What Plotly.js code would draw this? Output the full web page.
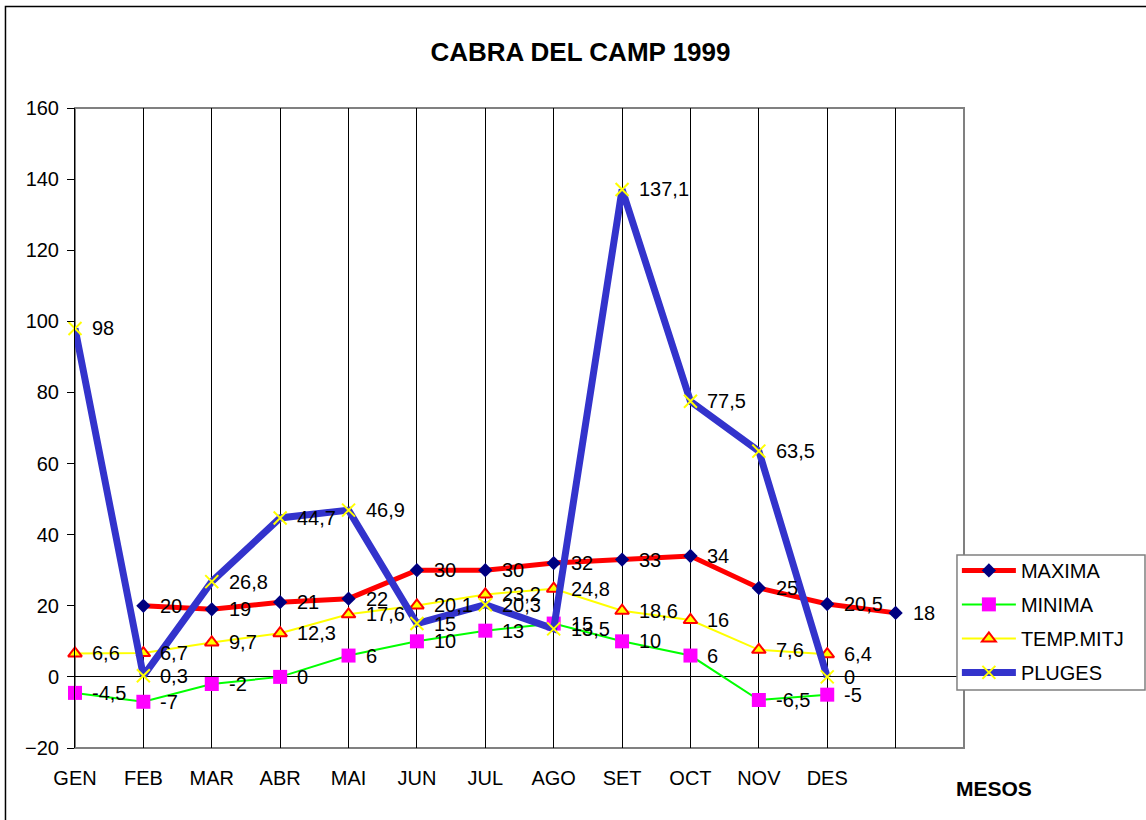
<!DOCTYPE html>
<html>
<head>
<meta charset="utf-8">
<script src="https://cdn.plot.ly/plotly-3.0.1.min.js"></script>
<style>
html,body{margin:0;padding:0;background:#fff;}
#chart{width:1146px;height:820px;}
</style>
</head>
<body>
<div id="chart"></div>
<script>
// ---- data ----
var months = ['GEN','FEB','MAR','ABR','MAI','JUN','JUL','AGO','SET','OCT','NOV','DES',''];
var maxima = [null,20,19,21,22,30,30,32,33,34,25,20.5,18];
var minima = [-4.5,-7,-2,0,6,10,13,15,10,6,-6.5,-5,null];
var tempMitj = [6.6,6.7,9.7,12.3,17.6,20.1,23.2,24.8,18.6,16,7.6,6.4,null];
var pluges = [98,0.3,26.8,44.7,46.9,15,20.3,13.5,137.1,77.5,63.5,0,null];
var seriesNames = ['MAXIMA','MINIMA','TEMP.MITJ','PLUGES'];
var chartTitle = 'CABRA DEL CAMP 1999';
var xTitle = 'MESOS';

var idx = months.map(function(_, i){ return i; });
function fmt(v){ return String(v).replace('.', ','); }
var FONT = '"Liberation Sans", Arial, sans-serif';
var textFont = {family: FONT, size: 20, color: '#000'};

var traces = [
  {
    name: seriesNames[0], x: idx, y: maxima,
    mode: 'lines+markers',
    line: {color: '#FF0000', width: 5},
    marker: {symbol: 'diamond', size: 11, color: '#000080'},
    cliponaxis: false, legendgroup: 'a', hoverinfo: 'none'
  },
  {
    name: seriesNames[1], x: idx, y: minima,
    mode: 'lines+markers',
    line: {color: '#00FF00', width: 2},
    marker: {symbol: 'square', size: 14, color: '#FF00FF'},
    cliponaxis: false, legendgroup: 'b', hoverinfo: 'none'
  },
  {
    name: seriesNames[2], x: idx, y: tempMitj,
    mode: 'lines+markers',
    line: {color: '#FFFF00', width: 2},
    marker: {symbol: 'triangle-up', size: 12, color: '#FFFF00', line: {color: '#FF0000', width: 2}},
    cliponaxis: false, legendgroup: 'c', hoverinfo: 'none'
  },
  {
    name: seriesNames[3], x: idx, y: pluges,
    mode: 'lines+markers',
    line: {color: '#3333CC', width: 7},
    marker: {symbol: 'x-thin-open', size: 13, color: '#FFFF00', line: {color: '#FFFF00', width: 2}},
    cliponaxis: false, legendgroup: 'd', hoverinfo: 'none'
  }
];

// data labels (drawn right of each point, as in the original)
var annotations = [];
[maxima, minima, tempMitj, pluges].forEach(function(arr){
  arr.forEach(function(v, i){
    if (v === null) return;
    annotations.push({
      x: idx[i], y: v, xref: 'x', yref: 'y', text: fmt(v),
      xanchor: 'left', yanchor: 'middle', xshift: 15, showarrow: false,
      font: textFont
    });
  });
});
annotations.push({
  text: '<b>' + xTitle + '</b>', xref: 'paper', yref: 'paper',
  x: 1.0337, y: -0.0625, xanchor: 'center', yanchor: 'middle', showarrow: false,
  font: {family: FONT, size: 21, color: '#000'}
});

var layout = {
  width: 1146, height: 820,
  margin: {l: 75, r: 182, t: 108, b: 72, pad: 0},
  paper_bgcolor: '#fff', plot_bgcolor: '#fff',
  font: {family: FONT, size: 20, color: '#000'},
  title: {
    text: '<b>' + chartTitle + '</b>',
    font: {family: FONT, size: 26, color: '#000'},
    xref: 'paper', x: 0.5686, xanchor: 'center',
    yref: 'container', y: 0.9366, yanchor: 'middle'
  },
  xaxis: {
    range: [0, 13], tickvals: idx, ticktext: months,
    showgrid: true, gridcolor: '#000', gridwidth: 1,
    zeroline: false, showline: false, ticks: '',
    ticklabelstandoff: 16,
    tickfont: {family: FONT, size: 20, color: '#000'},
    fixedrange: true
  },
  yaxis: {
    range: [-20, 160], dtick: 20, tick0: 0,
    showgrid: false, zeroline: true, zerolinecolor: '#000', zerolinewidth: 1,
    showline: true, linecolor: '#000', linewidth: 1,
    ticks: 'outside', ticklen: 7, tickcolor: '#000', tickwidth: 1,
    ticklabelstandoff: 4,
    tickfont: {family: FONT, size: 20, color: '#000'},
    fixedrange: true
  },
  showlegend: true,
  legend: {
    x: 0.992, xanchor: 'left', y: 0.308, yanchor: 'top',
    bgcolor: 'rgba(0,0,0,0)', borderwidth: 0,
    font: {family: FONT, size: 20, color: '#000'},
    traceorder: 'grouped', tracegroupgap: 5, itemwidth: 54
  },
  shapes: [
    {type: 'rect', xref: 'paper', yref: 'paper', x0: 0, x1: 1, y0: 0, y1: 1,
     line: {color: '#808080', width: 2}, layer: 'below'},
    {type: 'rect', xref: 'paper', yref: 'paper', x0: -0.0782, x1: 1.25, y0: -0.2, y1: 1.1586,
     line: {color: '#000', width: 1.5}, layer: 'below'},
    {type: 'rect', xref: 'paper', yref: 'paper', x0: 0.9921, x1: 1.2036, y0: 0.0906, y1: 0.3016,
     line: {color: '#808080', width: 1.5}, fillcolor: '#fff', layer: 'above'}
  ],
  annotations: annotations
};

Plotly.newPlot('chart', traces, layout, {displayModeBar: false, staticPlot: true});
</script>
</body>
</html>
